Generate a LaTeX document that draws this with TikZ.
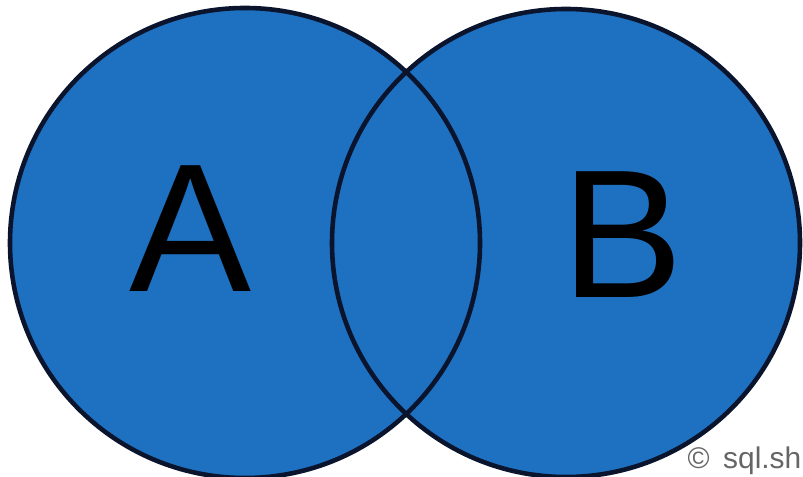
\documentclass[tikz,border=0pt]{standalone}
\usepackage{fontspec}
\setmainfont{Liberation Sans}
\definecolor{setblue}{RGB}{30,112,192}
\definecolor{rimnavy}{RGB}{10,20,45}

\begin{document}
\begin{tikzpicture}[x=0.01cm, y=-0.01cm, line join=round, line cap=round]
    \useasboundingbox (0,0) rectangle (803,477);
    % centres of the two sets
    \coordinate (A) at (245,243);
    \coordinate (B) at (566,243);

    % fills first, then both rims
    \fill[setblue] (A) circle (235);
    \fill[setblue] (B) circle (234);
    \draw[rimnavy, line width=1.3pt] (A) circle (235);
    \draw[rimnavy, line width=1.3pt] (B) circle (234);

    % labels
    \node (la) at (190,229) {\fontsize{52}{52}\selectfont A};
    \node (lb) at (622,235) {\fontsize{52}{52}\selectfont B};
    \node[gray!80!black, anchor=base east, inner sep=0pt] (mark) at (802,469) {\fontsize{8.5}{9}\selectfont \textcopyright\hspace{0.45em}sql.sh};
\end{tikzpicture}
\end{document}
